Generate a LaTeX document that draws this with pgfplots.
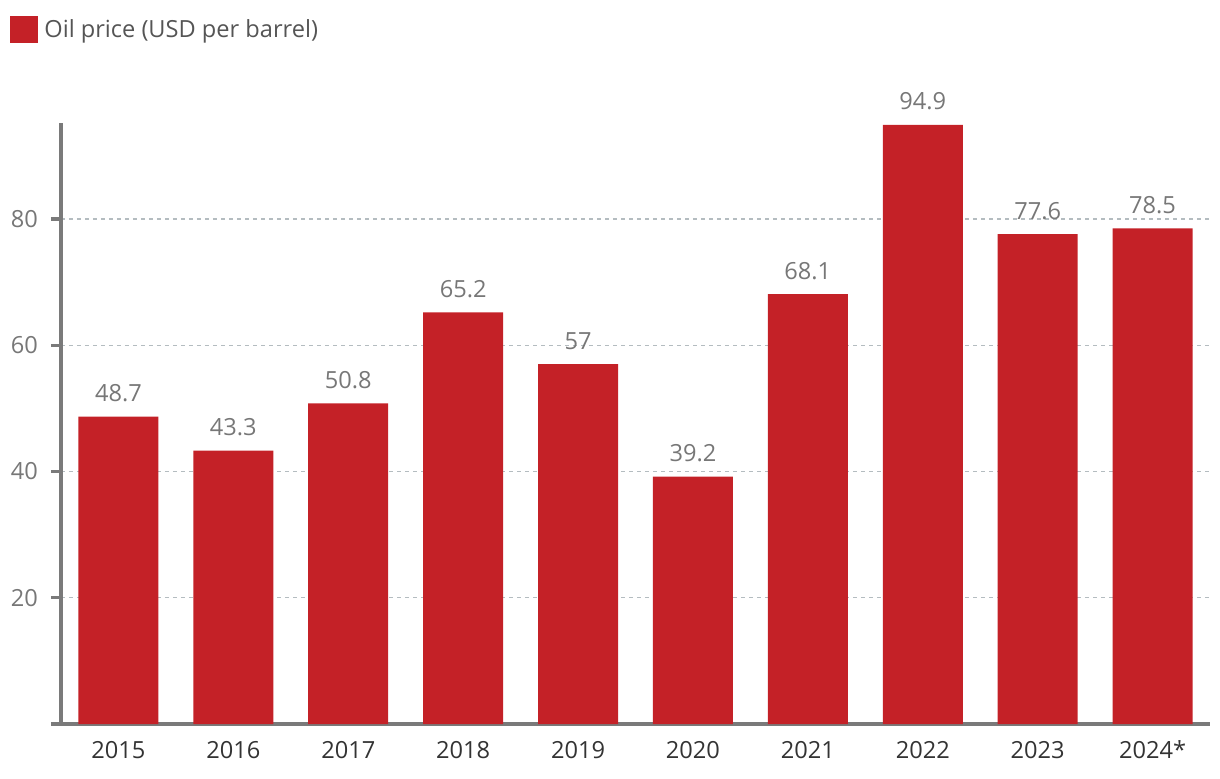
\documentclass[border=0pt]{standalone}
\usepackage{pgfplots}
\pgfplotsset{compat=1.18}
\usepackage{fontspec}
\setmainfont{Open Sans}
\definecolor{barred}{HTML}{C42127}
\definecolor{axgray}{HTML}{7A7A7A}
\definecolor{lblgray}{HTML}{777777}
\definecolor{xlbl}{HTML}{333333}
\definecolor{gridc}{HTML}{B4BCC0}
\definecolor{leggray}{HTML}{555555}
\begin{document}
\begin{tikzpicture}
\path[use as bounding box] (-30.5pt,-27pt) rectangle (579.5pt,362pt);
\begin{axis}[
  scale only axis,
  width=574.5pt, height=300.5pt,
  xmin=-0.5, xmax=9.5, ymin=0, ymax=95.2,
  axis x line=bottom, axis y line=left,
  x axis line style={-, draw=axgray, line width=1.6pt, shorten <=-5pt},
  y axis line style={-, draw=axgray, line width=1.6pt},
  xtick={0,...,9},
  xticklabels={2015,2016,2017,2018,2019,2020,2021,2022,2023,2024*},
  xtick style={draw=none},
  ytick={20,40,60,80},
  ytick style={draw=axgray, line width=1.6pt},
  tick align=outside,
  major tick length=5pt,
  ymajorgrids,
  grid style={gridc, line width=0.7pt, dash pattern=on 2pt off 2pt},
  tick label style={font=\fontsize{11.8}{14}\selectfont},
  xticklabel style={text=xlbl, anchor=base, yshift=-12pt},
  yticklabel style={text=lblgray, xshift=-3pt},
  /pgf/number format/assume math mode=true,
  ybar, bar width=40pt,
  nodes near coords,
  every node near coord/.append style={font=\fontsize{11.8}{14}\selectfont, text=lblgray, anchor=base, yshift=7.5pt},
  legend style={at={(rel axis cs:0,1)}, anchor=north west, xshift=-25.5pt, yshift=53.5pt,
    draw=none, fill=none, inner sep=0pt, font=\fontsize{11.8}{14}\selectfont, text=leggray,
    column sep=1.5pt, nodes={inner sep=1.5pt}},
  legend image code/.code={\fill[#1] (0pt,-6.75pt) rectangle (14pt,6.75pt);},
]
\addplot[fill=barred, draw=none] coordinates {
  (0,48.7) (1,43.3) (2,50.8) (3,65.2) (4,57) (5,39.2) (6,68.1) (7,94.9) (8,77.6) (9,78.5)
};
\addlegendentry{Oil price (USD per barrel)}
\end{axis}
\end{tikzpicture}
\end{document}
